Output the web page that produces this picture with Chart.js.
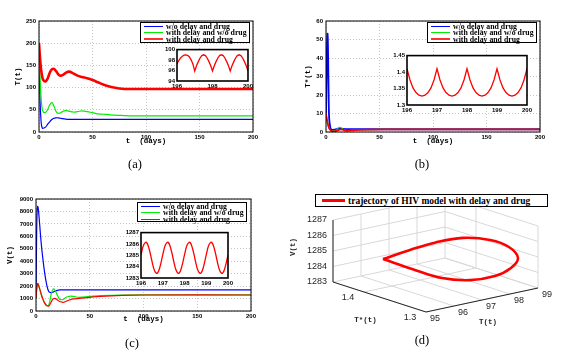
<!DOCTYPE html>
<html>
<head>
<meta charset="utf-8">
<script src="https://cdn.jsdelivr.net/npm/chart.js@4.4.1/dist/chart.umd.min.js"></script>
<style>
  body { margin: 0; width: 568px; height: 359px; background: #fff; position: relative; overflow: hidden; }
  canvas { position: absolute; }
  .legend { position: absolute; box-sizing: border-box; border: 1px solid #000; background: #fff;
            font: bold 7.8px "Liberation Serif", serif; line-height: 6.5px; padding: 0.5px 0 0 3px; }
  .legend div { white-space: nowrap; }
  .legend i { display: inline-block; width: 19px; border-top: 1.4px solid; vertical-align: middle; margin: -1px 3px 0 0; }
  .cap { position: absolute; font: 12.5px "Liberation Serif", serif; line-height: 14px; transform: translateX(-50%); }
</style>
</head>
<body>
<canvas id="mainA" width="270" height="160" style="left:0;top:0"></canvas>
<canvas id="mainB" width="288" height="160" style="left:280px;top:0"></canvas>
<canvas id="mainC" width="270" height="150" style="left:0;top:185px"></canvas>
<canvas id="insetA" width="95" height="48" style="left:160px;top:44px"></canvas>
<canvas id="insetB" width="149" height="64" style="left:385px;top:50px"></canvas>
<canvas id="insetC" width="117" height="62" style="left:118px;top:227px"></canvas>
<canvas id="phase3d" width="288" height="174" style="left:280px;top:185px"></canvas>

<div class="legend" style="left:140px;top:22px;width:110px;height:21px">
  <div><i style="color:#0000ff"></i>w/o delay and drug</div>
  <div><i style="color:#00ee00"></i>with delay and w/o drug</div>
  <div><i style="color:#ff3030;border-top-width:2.5px"></i>with delay and drug</div>
</div>
<div class="legend" style="left:427px;top:22px;width:110px;height:21px">
  <div><i style="color:#0000ff"></i>w/o delay and drug</div>
  <div><i style="color:#00ee00"></i>with delay and w/o drug</div>
  <div><i style="color:#ff3030;border-top-width:2.5px"></i>with delay and drug</div>
</div>
<div class="legend" style="left:137px;top:202px;width:110px;height:20px">
  <div><i style="color:#0000ff"></i>w/o delay and drug</div>
  <div><i style="color:#00ee00"></i>with delay and w/o drug</div>
  <div><i style="color:#ff0000"></i>with delay and drug</div>
</div>
<div class="legend" style="left:315px;top:194px;width:233px;height:13px;font-size:9.5px;line-height:11px;padding-left:6px">
  <div><i style="color:#ff0000;width:23px;border-top-width:3px"></i>trajectory of HIV model with delay and drug</div>
</div>

<div class="cap" style="left:135px;top:157px">(a)</div>
<div class="cap" style="left:422px;top:157px">(b)</div>
<div class="cap" style="left:132px;top:336px">(c)</div>
<div class="cap" style="left:422px;top:333px">(d)</div>

<script>
// --- data ---
// (a) uninfected cells T(t)
const tA = [0, 1, 2, 3, 4, 6, 8, 10, 12, 14, 16, 18, 20, 22, 25, 28, 32, 36, 40, 45, 50, 55, 60, 65, 70, 75, 80, 90, 100, 150, 200];
const T_noDelayNoDrug = [200, 70, 22, 9, 8.5, 11, 17, 23, 28, 31, 32, 32, 31, 30, 29, 28.5, 28.5, 28.5, 28.5, 28.5, 28.5, 28.5, 28.5, 28.5, 28.5, 28.5, 28.5, 28.5, 28.5, 28.5, 28.5];
const T_delayNoDrug = [200, 120, 75, 52, 45, 44, 50, 61, 66, 58, 46, 42, 43, 46, 48, 47, 45, 46, 47.5, 46, 43.5, 41, 40, 39, 38, 37.5, 37, 36.5, 36.5, 36.5, 36.5];
const T_delayDrug = [200, 165, 140, 125, 117, 114, 120, 133, 141, 142, 137, 130, 127, 128, 133, 136, 132, 127, 124, 121, 117, 112, 107, 103, 100, 98, 97, 97, 97, 97, 97];

// (b) infected cells T*(t)
const tB = [0, 0.5, 1, 1.5, 2, 2.5, 3, 4, 5, 6, 8, 10, 12, 14, 16, 18, 20, 25, 30, 40, 60, 100, 200];
const Ts_noDelayNoDrug = [10, 30, 48, 53, 40, 18, 7, 2.5, 1.3, 1.1, 1.3, 1.6, 1.8, 1.8, 1.7, 1.6, 1.55, 1.5, 1.5, 1.5, 1.5, 1.5, 1.5];
const Ts_delayNoDrug = [10, 8, 6.2, 4.8, 3.6, 2.7, 2.0, 1.1, 0.6, 0.45, 0.5, 1.2, 2.4, 2.4, 1.5, 0.9, 0.8, 1.0, 1.2, 1.3, 1.4, 1.4, 1.4];
const Ts_delayDrug = [10, 8, 6.2, 4.8, 3.6, 2.7, 2.0, 1.1, 0.6, 0.4, 0.35, 0.7, 1.2, 1.4, 1.2, 0.9, 0.8, 0.9, 1.1, 1.3, 1.37, 1.37, 1.37];

// (c) free virus V(t)
const tC = [0, 0.5, 1, 1.5, 2, 3, 4, 5, 6, 8, 10, 12, 14, 16, 18, 20, 22, 25, 28, 32, 36, 40, 50, 60, 80, 100, 200];
const V_noDelayNoDrug = [1000, 5500, 7900, 8400, 8300, 7400, 6300, 5300, 4500, 3100, 2100, 1550, 1480, 1520, 1600, 1660, 1690, 1700, 1700, 1700, 1700, 1700, 1700, 1700, 1700, 1700, 1700];
const V_delayNoDrug = [1000, 1600, 2000, 2200, 2150, 1900, 1600, 1300, 1050, 650, 430, 500, 1300, 1780, 1620, 1250, 950, 920, 1100, 1200, 1150, 1100, 1170, 1230, 1280, 1290, 1290];
const V_delayDrug = [1000, 1600, 2000, 2200, 2150, 1900, 1600, 1300, 1050, 650, 440, 400, 700, 980, 1000, 880, 760, 700, 780, 920, 980, 1010, 1100, 1180, 1260, 1285, 1285];

// insets, t = 196 .. 200
const tInset = [196.0, 196.1, 196.2, 196.3, 196.4, 196.5, 196.6, 196.7, 196.8, 196.9,
                197.0, 197.1, 197.2, 197.3, 197.4, 197.5, 197.6, 197.7, 197.8, 197.9,
                198.0, 198.1, 198.2, 198.3, 198.4, 198.5, 198.6, 198.7, 198.8, 198.9,
                199.0, 199.1, 199.2, 199.3, 199.4, 199.5, 199.6, 199.7, 199.8, 199.9, 200.0];
const insetT = [97.3, 97.9, 98.4, 98.75, 98.95, 99.0, 98.9, 98.6, 98.0, 97.2,
                95.9, 96.9, 97.7, 98.4, 98.85, 99.0, 98.85, 98.4, 97.7, 96.9,
                95.9, 96.9, 97.7, 98.4, 98.85, 99.0, 98.85, 98.4, 97.7, 96.9,
                95.9, 96.9, 97.7, 98.4, 98.85, 99.0, 98.85, 98.4, 97.7, 96.9, 95.9];
const insetTs = [1.41, 1.376, 1.352, 1.338, 1.330, 1.327, 1.330, 1.338, 1.352, 1.376,
                 1.41, 1.376, 1.352, 1.338, 1.330, 1.327, 1.330, 1.338, 1.352, 1.376,
                 1.41, 1.376, 1.352, 1.338, 1.330, 1.327, 1.330, 1.338, 1.352, 1.376,
                 1.41, 1.376, 1.352, 1.338, 1.330, 1.327, 1.330, 1.338, 1.352, 1.376, 1.41];
const tInsetV = [196, 196.125, 196.25, 196.375, 196.5, 196.625, 196.75, 196.875,
                 197, 197.125, 197.25, 197.375, 197.5, 197.625, 197.75, 197.875,
                 198, 198.125, 198.25, 198.375, 198.5, 198.625, 198.75, 198.875,
                 199, 199.125, 199.25, 199.375, 199.5, 199.625, 199.75, 199.875, 200];
const insetV = [1285.04, 1285.92, 1286.14, 1285.56, 1284.52, 1283.64, 1283.42, 1284.0,
                1285.04, 1285.92, 1286.14, 1285.56, 1284.52, 1283.64, 1283.42, 1284.0,
                1285.04, 1285.92, 1286.14, 1285.56, 1284.52, 1283.64, 1283.42, 1284.0,
                1285.04, 1285.92, 1286.14, 1285.56, 1284.52, 1283.64, 1283.42, 1284.0, 1285.04];

// (d) one period of the limit cycle (T, T*, V)
const cycT = [96.01, 96.31, 96.69, 97.36, 98.11, 98.67, 98.95, 98.72, 98.26, 97.57, 96.90, 96.34, 96.01];
const cycTs = [1.415, 1.385, 1.362, 1.347, 1.337, 1.332, 1.330, 1.331, 1.336, 1.345, 1.360, 1.383, 1.415];
const cycV = [1284.54, 1285.40, 1286.02, 1286.26, 1285.96, 1285.36, 1284.56, 1284.00, 1283.59, 1283.48, 1283.68, 1284.19, 1284.54];
const tLim3 = [95, 99], tsLim3 = [1.3, 1.45], vLim3 = [1283, 1287];
const tTicks3 = [95, 96, 97, 98, 99], tsTicks3 = [1.3, 1.4], vTicks3 = [1283, 1284, 1285, 1286, 1287];

const BLUE = '#0000ff', GREEN = '#00ee00', RED = '#ff0000';

Chart.defaults.font.family = '"Liberation Sans", Arial, sans-serif';
Chart.defaults.font.size = 6;
Chart.defaults.font.weight = 'bold';
Chart.defaults.color = '#000';

const axisTitleFont = {family: '"Liberation Mono", monospace', size: 7.5, weight: 'bold'};
const num = v => String(+v.toFixed(2));

// black box around the plot area, optional white fill behind it
const frame = {
  id: 'frame',
  beforeDraw(chart, args, opts) {
    if (!opts.fill) return;
    const {ctx, chartArea: a} = chart;
    ctx.save();
    ctx.fillStyle = '#fff';
    ctx.fillRect(a.left, a.top, a.right - a.left, a.bottom - a.top);
    ctx.restore();
  },
  afterDatasetsDraw(chart, args, opts) {
    const {ctx, chartArea: a} = chart;
    ctx.save();
    ctx.strokeStyle = '#000';
    ctx.lineWidth = opts.width || 1;
    ctx.strokeRect(a.left, a.top, a.right - a.left, a.bottom - a.top);
    ctx.restore();
  }
};

function lineSets(t, curves) {
  return curves.map(c => ({
    data: t.map((x, i) => ({x, y: c.values[i]})),
    borderColor: c.color,
    borderWidth: c.width,
    pointRadius: 0,
    tension: c.tension == null ? 0.4 : c.tension,
    order: c.order || 0
  }));
}

function timeChart(id, t, curves, yMax, yStep, yTitle, pad, yW, xH) {
  const grid = {color: '#b8b8b8', lineWidth: 0.8, drawTicks: false};
  const border = {display: false, dash: [1, 2]};
  return new Chart(document.getElementById(id), {
    type: 'line',
    data: {datasets: lineSets(t, curves)},
    options: {
      responsive: false, animation: false, events: [],
      layout: {padding: pad},
      plugins: {legend: {display: false}, tooltip: {enabled: false}, frame: {width: 1}},
      scales: {
        x: {
          type: 'linear', min: 0, max: 200,
          afterFit: s => { s.height = xH; },
          ticks: {stepSize: 50, padding: 2, maxRotation: 0, callback: num},
          grid, border,
          title: {display: true, text: 't  (days)', font: axisTitleFont, padding: 0}
        },
        y: {
          min: 0, max: yMax,
          afterFit: s => { s.width = yW; },
          ticks: {stepSize: yStep, padding: 3, callback: num},
          grid, border,
          title: {display: true, text: yTitle, font: axisTitleFont, padding: 0}
        }
      }
    },
    plugins: [frame]
  });
}

function insetChart(id, t, values, yMin, yMax, yStep, xStep, pad, yW, xH, tension) {
  const noGrid = {display: false, drawTicks: false};
  return new Chart(document.getElementById(id), {
    type: 'line',
    data: {datasets: lineSets(t, [{values, color: RED, width: 1.3, tension}])},
    options: {
      responsive: false, animation: false, events: [],
      layout: {padding: pad},
      plugins: {legend: {display: false}, tooltip: {enabled: false}, frame: {fill: true, width: 1.6}},
      scales: {
        x: {
          type: 'linear', min: 196, max: 200,
          afterFit: s => { s.height = xH; },
          ticks: {stepSize: xStep, padding: 2, maxRotation: 0, autoSkip: false, callback: num},
          grid: noGrid, border: {display: false}
        },
        y: {
          min: yMin, max: yMax,
          afterFit: s => { s.width = yW; },
          ticks: {stepSize: yStep, padding: 2, autoSkip: false, callback: num},
          grid: noGrid, border: {display: false}
        }
      }
    },
    plugins: [frame]
  });
}

// --- (a), (b), (c) ---
timeChart('mainA', tA, [
  {values: T_noDelayNoDrug, color: BLUE, width: 1.2, order: 2},
  {values: T_delayNoDrug, color: GREEN, width: 1.2, order: 1},
  {values: T_delayDrug, color: RED, width: 2.6, order: 0}
], 250, 50, 'T(t)', {left: 14, top: 21, right: 17, bottom: 14}, 25, 14);

timeChart('mainB', tB, [
  {values: Ts_noDelayNoDrug, color: BLUE, width: 1.8, order: 2},
  {values: Ts_delayNoDrug, color: GREEN, width: 1.2, order: 1},
  {values: Ts_delayDrug, color: RED, width: 1.8, order: 0}
], 60, 10, 'T*(t)', {left: 24, top: 21, right: 28, bottom: 14}, 22, 14);

timeChart('mainC', tC, [
  {values: V_noDelayNoDrug, color: BLUE, width: 1.2, order: 2},
  {values: V_delayNoDrug, color: GREEN, width: 1.2, order: 1},
  {values: V_delayDrug, color: RED, width: 1.2, order: 0}
], 9000, 1000, 'V(t)', {left: 6, top: 14, right: 19, bottom: 11}, 30, 13);

insetChart('insetA', tInset, insetT, 94, 100, 2, 2, {left: 0, top: 3, right: 7, bottom: 0}, 17, 11, 0);
insetChart('insetB', tInset, insetTs, 1.3, 1.45, 0.05, 1, {left: 0, top: 4, right: 7, bottom: 0}, 22, 9, 0);
insetChart('insetC', tInsetV, insetV, 1283, 1287, 1, 1, {left: 0, top: 4, right: 7, bottom: 0}, 23, 11, 0.4);

// --- (d) 3-D phase portrait, orthographic view like MATLAB's default ---
function proj(T, S, V) {
  const u = (T - tLim3[0]) / (tLim3[1] - tLim3[0]);
  const v = (S - tsLim3[0]) / (tsLim3[1] - tsLim3[0]);
  const w = (V - vLim3[0]) / (vLim3[1] - vLim3[0]);
  return {x: 146 + 112 * u - 93 * v, y: 127 - 24 * u - 30 * v - 62 * w};
}

const box3d = {
  id: 'box3d',
  beforeDatasetsDraw(chart) {
    const {ctx, scales: {x, y}} = chart;
    const P = (T, S, V) => { const p = proj(T, S, V); return [x.getPixelForValue(p.x), y.getPixelForValue(p.y)]; };
    const seg = (a, b, color) => {
      const p = P(...a), q = P(...b);
      ctx.strokeStyle = color;
      ctx.beginPath(); ctx.moveTo(p[0], p[1]); ctx.lineTo(q[0], q[1]); ctx.stroke();
    };
    const [t0, t1] = tLim3, [s0, s1] = tsLim3, [v0, v1] = vLim3;
    const g = '#d8d8d8', k = '#262626';
    ctx.save();
    ctx.lineWidth = 1;
    // floor, back wall (T* max), side wall (T max)
    tTicks3.forEach(T => { seg([T, s0, v0], [T, s1, v0], g); seg([T, s1, v0], [T, s1, v1], g); });
    tsTicks3.forEach(S => { seg([t0, S, v0], [t1, S, v0], g); seg([t1, S, v0], [t1, S, v1], g); });
    vTicks3.forEach(V => { seg([t0, s1, V], [t1, s1, V], g); seg([t1, s0, V], [t1, s1, V], g); });
    // axis lines
    seg([t0, s0, v0], [t1, s0, v0], k);
    seg([t0, s0, v0], [t0, s1, v0], k);
    seg([t0, s1, v0], [t0, s1, v1], k);
    // tick labels
    ctx.fillStyle = k;
    ctx.font = '9px "Liberation Sans", Arial, sans-serif';
    ctx.textBaseline = 'middle';
    ctx.textAlign = 'right';
    vTicks3.forEach(V => { const p = P(t0, s1, V); ctx.fillText(String(V), p[0] - 6, p[1]); });
    ctx.textAlign = 'center';
    tsTicks3.forEach(S => { const p = P(t0, S, v0); ctx.fillText(num(S), p[0] - 16, p[1] + 6); });
    tTicks3.forEach(T => { const p = P(T, s0, v0); ctx.fillText(String(T), p[0] + 9, p[1] + 7); });
    // axis titles
    ctx.font = 'bold 7.5px "Liberation Mono", monospace';
    let p = P(t1 - (t1 - t0) / 2, s0, v0);
    ctx.fillText('T(t)', p[0] + 6, p[1] + 22);
    p = P(t0, (s0 + s1) / 2, v0);
    ctx.fillText('T*(t)', p[0] - 14, p[1] + 23);
    p = P(t0, s1, (v0 + v1) / 2);
    ctx.translate(p[0] - 40, p[1] - 4);
    ctx.rotate(-Math.PI / 2);
    ctx.fillText('V(t)', 0, 0);
    ctx.restore();
  }
};

new Chart(document.getElementById('phase3d'), {
  type: 'scatter',
  data: {
    datasets: [{
      data: cycT.map((T, i) => proj(T, cycTs[i], cycV[i])),
      showLine: true,
      borderColor: RED,
      borderWidth: 2.6,
      pointRadius: 0,
      tension: 0.4
    }]
  },
  options: {
    responsive: false, animation: false, events: [],
    layout: {padding: 0},
    plugins: {legend: {display: false}, tooltip: {enabled: false}},
    scales: {
      x: {type: 'linear', min: 0, max: 288, display: false},
      y: {type: 'linear', min: 0, max: 174, reverse: true, display: false}
    }
  },
  plugins: [box3d]
});
</script>
</body>
</html>
